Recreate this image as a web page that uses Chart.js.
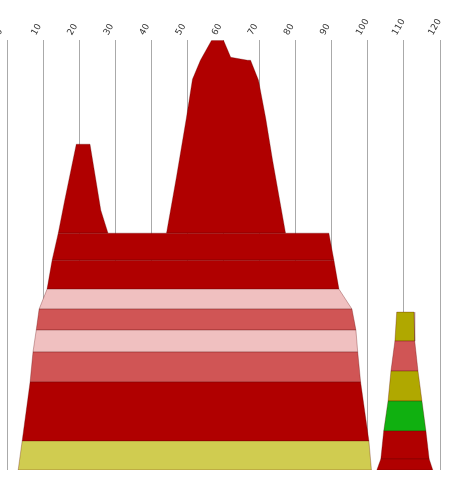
<!DOCTYPE html>
<html>
<head>
<meta charset="utf-8">
<script src="https://cdn.jsdelivr.net/npm/chart.js@4/dist/chart.umd.min.js"></script>
<style>body{margin:0;background:#fff}#wrap{width:452px;height:477px}</style>
</head>
<body>
<div id="wrap"><canvas id="c"></canvas></div>
<script>
// x ticks along the top
const xTicks = [0, 10, 20, 30, 40, 50, 60, 70, 80, 90, 100, 110, 120];

// stacked bands: bottom/top height, left edge (bottom, top), right edge (bottom, top), colour
const bandBottom = [0, 29, 88, 118, 140, 161, 181, 210, 0, 11, 39, 69, 99, 129];
const bandTop    = [29, 88, 118, 140, 161, 181, 210, 237, 11, 39, 69, 99, 129, 158];
const leftLow    = [3.1, 4.2, 6.4, 7.2, 8.1, 8.9, 11.1, 12.5, 102.5, 103.6, 104.4, 105.6, 106.4, 107.5];
const leftHigh   = [4.2, 6.4, 7.2, 8.1, 8.9, 11.1, 12.5, 14.2, 103.6, 104.4, 105.6, 106.4, 107.5, 108];
const rightLow   = [101, 100.3, 98, 97.2, 96.7, 95.6, 92, 90.6, 118, 117, 116.1, 115, 113.9, 113];
const rightHigh  = [100.3, 98, 97.2, 96.7, 95.6, 92, 90.6, 89.2, 117, 116.1, 115, 113.9, 113, 112.8];
const bandColor  = ['#d0cc50', '#b00000', '#d05555', '#f0c0c0', '#d05555', '#f0c0c0', '#b00000', '#b00000',
                    '#b00000', '#b00000', '#10b010', '#b0a800', '#d05555', '#b0a800'];

// the two peaks on top (outline points)
const peakLeftX  = [14.2, 16, 19.2, 23, 26, 28];
const peakLeftY  = [237, 270, 326, 326, 260, 237];
const peakRightX = [44.2, 47, 49.7, 51.4, 53.6, 56.7, 60, 62, 66.7, 67.5, 69.7, 71.7, 73.6, 77.2];
const peakRightY = [237, 294, 352, 391, 410, 430, 430, 413, 410, 410, 390, 352, 310, 237];

const datasets = [];
bandColor.forEach((col, i) => {
  datasets.push({
    data: [
      {x: leftLow[i], y: bandBottom[i]}, {x: leftHigh[i], y: bandTop[i]},
      {x: rightHigh[i], y: bandTop[i]}, {x: rightLow[i], y: bandBottom[i]},
      {x: leftLow[i], y: bandBottom[i]}
    ],
    showLine: true, fill: 'shape', backgroundColor: col,
    borderColor: 'rgba(90,0,0,0.5)', borderWidth: 0.6, pointRadius: 0, tension: 0
  });
});
[[peakLeftX, peakLeftY], [peakRightX, peakRightY]].forEach(([xs, ys]) => {
  const pts = xs.map((x, i) => ({x: x, y: ys[i]}));
  pts.push(pts[0]);
  datasets.push({
    data: pts, showLine: true, fill: 'shape', backgroundColor: '#b00000',
    borderColor: 'rgba(90,0,0,0.5)', borderWidth: 0.6, pointRadius: 0, tension: 0
  });
});

new Chart(document.getElementById('c'), {
  type: 'scatter',
  data: { datasets: datasets },
  options: {
    responsive: true, maintainAspectRatio: false, animation: false,
    layout: { padding: { left: 7, right: 12, top: 14, bottom: 7 } },
    plugins: { legend: { display: false }, tooltip: { enabled: false } },
    scales: {
      x: {
        position: 'top', min: 0, max: 120,
        afterBuildTicks: ax => { ax.ticks = xTicks.map(v => ({value: v})); },
        afterFit: ax => { ax.paddingLeft = 0; ax.paddingRight = 0; },
        ticks: { maxRotation: 60, minRotation: 60, color: '#333', font: { family: 'DejaVu Sans', size: 9 } },
        grid: { color: '#aaa', drawTicks: false },
        border: { display: false }
      },
      y: { min: 0, max: 430, display: false }
    }
  }
});
</script>
</body>
</html>
